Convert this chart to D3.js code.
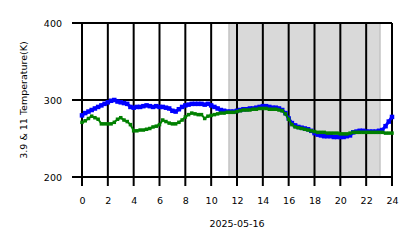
<!DOCTYPE html>
<html><head><meta charset="utf-8">
<script src="https://cdn.jsdelivr.net/npm/d3@7"></script>
<style>html,body{margin:0;padding:0;background:#fff;}svg{display:block;font-family:"DejaVu Sans",sans-serif;}</style>
</head><body>
<script>
const hours = d3.range(0, 24.01, 0.25);
const blueK = [280,283,285,287,289,291,293,295,297,299,300,298,297,296,295,291,290,291,291,292,293,292,291,292,291,291,290,289,286,285,288,291,293,294,295,295,295,295,294,295,293,291,289,287,286,285,285,285,286,287,288,288,289,289,290,291,292,292,291,290,290,289,287,283,276,270,267,265,264,263,262,260,257,255,254,253,253,253,252,252,252,252,253,254,258,259,260,260,259,259,259,259,260,261,266,272,278];
const greenK = [271,273,276,279,277,275,269,269,269,269,271,275,277,274,272,268,260,260,261,261,262,263,265,266,268,274,272,270,269,269,271,274,278,281,283,282,281,281,276,279,280,281,282,283,283,284,284,284,285,286,287,287,287,288,288,289,289,289,288,288,288,287,286,282,275,268,265,264,263,262,261,260,259,258,258,258,257,257,257,257,256,256,256,257,258,258,258,258,258,258,258,258,258,258,257,257,257];
const xTicks = d3.range(0, 25, 2);
const yTicks = [200, 300, 400];
const shade = [11.38, 23.07];
const dateLabel = "2025-05-16";
const yLabel = "3.9 & 11 Temperature(K)";

const W = 418, H = 248;
const svg = d3.select("body").append("svg").attr("width", W).attr("height", H);
const x = d3.scaleLinear().domain([0, 24]).range([82, 392]);
const y = d3.scaleLinear().domain([200, 400]).range([177, 23]);

svg.append("rect").attr("x", x(shade[0])).attr("y", y(400)).attr("width", x(shade[1]) - x(shade[0])).attr("height", y(200) - y(400))
  .attr("fill", "#d9d9d9").attr("stroke", "#c4c4c4").attr("stroke-width", 1.5);

const g = svg.append("g");
// grid
g.selectAll(".vg").data(xTicks).join("line").attr("x1", d => x(d)).attr("x2", d => x(d)).attr("y1", y(400)).attr("y2", y(200) + 9)
  .attr("stroke", "#000").attr("stroke-width", 2);
g.selectAll(".hg").data(yTicks).join("line").attr("x1", x(0) - 10).attr("x2", x(24)).attr("y1", d => y(d)).attr("y2", d => y(d))
  .attr("stroke", "#000").attr("stroke-width", 2);

// axes labels
const xa = d3.axisBottom(x).tickValues(xTicks).tickSize(0).tickPadding(20);
svg.append("g").attr("transform", `translate(0,${y(200)})`).call(xa)
  .call(s => s.select(".domain").remove())
  .selectAll("text").attr("font-size", 9.5).attr("font-family", "DejaVu Sans").attr("fill", "#000");
const ya = d3.axisLeft(y).tickValues(yTicks).tickSize(0).tickPadding(20);
svg.append("g").attr("transform", `translate(${x(0)},0)`).call(ya)
  .call(s => s.select(".domain").remove())
  .selectAll("text").attr("font-size", 9.5).attr("font-family", "DejaVu Sans").attr("fill", "#000");

svg.append("text").attr("x", (x(0) + x(24)) / 2).attr("y", 227).attr("text-anchor", "middle").attr("font-size", 9.5).text(dateLabel);
svg.append("text").attr("transform", `translate(27,${(y(200) + y(400)) / 2}) rotate(-90)`).attr("text-anchor", "middle").attr("font-size", 9.5).text(yLabel);

function series(vals, color, lw, ms) {
  const data = hours.map((h, i) => [h, vals[i]]);
  svg.append("path").datum(data).attr("fill", "none").attr("stroke", color).attr("stroke-width", lw)
    .attr("d", d3.line().x(d => x(d[0])).y(d => y(d[1])));
  svg.append("g").selectAll("rect").data(data).join("rect")
    .attr("x", d => x(d[0]) - ms / 2).attr("y", d => y(d[1]) - ms / 2).attr("width", ms).attr("height", ms).attr("fill", color);
}
series(blueK, "#0000ff", 3, 4.5);
series(greenK, "#008000", 2, 3.5);
</script>
</body></html>
